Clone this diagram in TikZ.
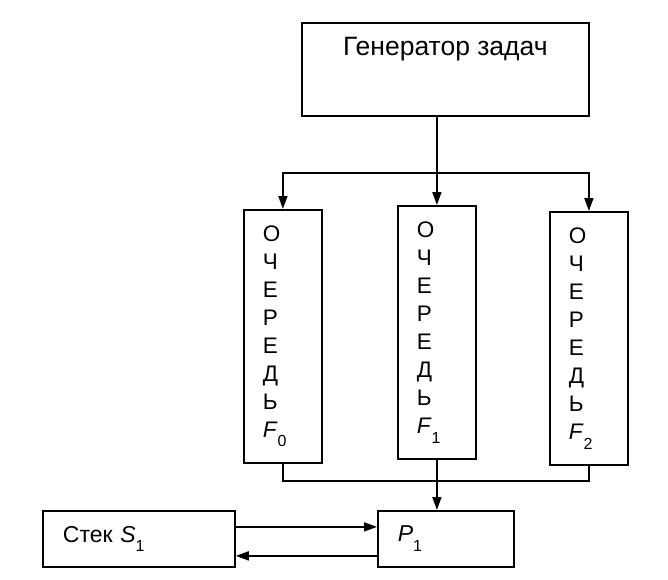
\documentclass[tikz,border=0pt]{standalone}
\usepackage{fontspec}
\setmainfont{Liberation Sans}
\usetikzlibrary{arrows.meta, positioning}
\newcommand{\indeks}[2]{\textit{#1}\raisebox{-0.8ex}{\fontsize{16}{16}\selectfont #2}}

\begin{document}
\begin{tikzpicture}[
  x=1pt, y=-1pt,
  blok/.style={rectangle, draw=black, line width=1.8pt, inner sep=0pt, anchor=north west},
  ochered/.style={blok, minimum width=78pt, minimum height=253pt, text width=40pt,
    inner xsep=19pt, align=left, font=\fontsize{22.5}{28}\selectfont},
  yachejka/.style={blok, minimum height=56pt, inner xsep=20pt, align=left,
    font=\fontsize{23}{26}\selectfont},
  strelka/.style={-{Triangle[length=13pt, width=9pt]}, line width=1.8pt},
  liniya/.style={line width=1.8pt}
]
  \useasboundingbox (0,0) rectangle (668,579);

  \node[blok, minimum width=287pt, minimum height=93pt] (generator) at (301,22) {};
  \node[below=15pt of generator.north, inner sep=0pt, font=\fontsize{26.5}{30}\selectfont] (generatortekst) {Генератор задач};

  \node[ochered] (ochered0) at (243,209) {О\\Ч\\Е\\Р\\Е\\Д\\Ь\\\indeks{F}{0}};
  \node[ochered] (ochered1) at (397,205) {О\\Ч\\Е\\Р\\Е\\Д\\Ь\\\indeks{F}{1}};
  \node[ochered] (ochered2) at (549,211) {О\\Ч\\Е\\Р\\Е\\Д\\Ь\\\indeks{F}{2}};

  \node[yachejka, minimum width=192pt, text width=152pt] (stek) at (42,510) {Стек \indeks{S}{1}};
  \node[yachejka, minimum width=136pt, text width=96pt] (p1) at (377,510) {\indeks{P}{1}};

  \coordinate (razvetvlenie) at (435,173);

  \draw[strelka] (generator.south -| ochered1.north) -- (ochered1.north);
  \draw[strelka] (razvetvlenie) -| (ochered0.north);
  \draw[strelka] (razvetvlenie) -| (ochered2.north);

  \draw[liniya] (ochered0.south) -- ++(0,17) -| (ochered2.south);
  \draw[strelka] (ochered1.south) -- (ochered1.south |- p1.north);

  \draw[strelka] ([yshift=12pt]stek.east) -- ([yshift=12pt]p1.west);
  \draw[strelka] ([yshift=-17pt]p1.west) -- ([yshift=-17pt]stek.east);
\end{tikzpicture}
\end{document}
